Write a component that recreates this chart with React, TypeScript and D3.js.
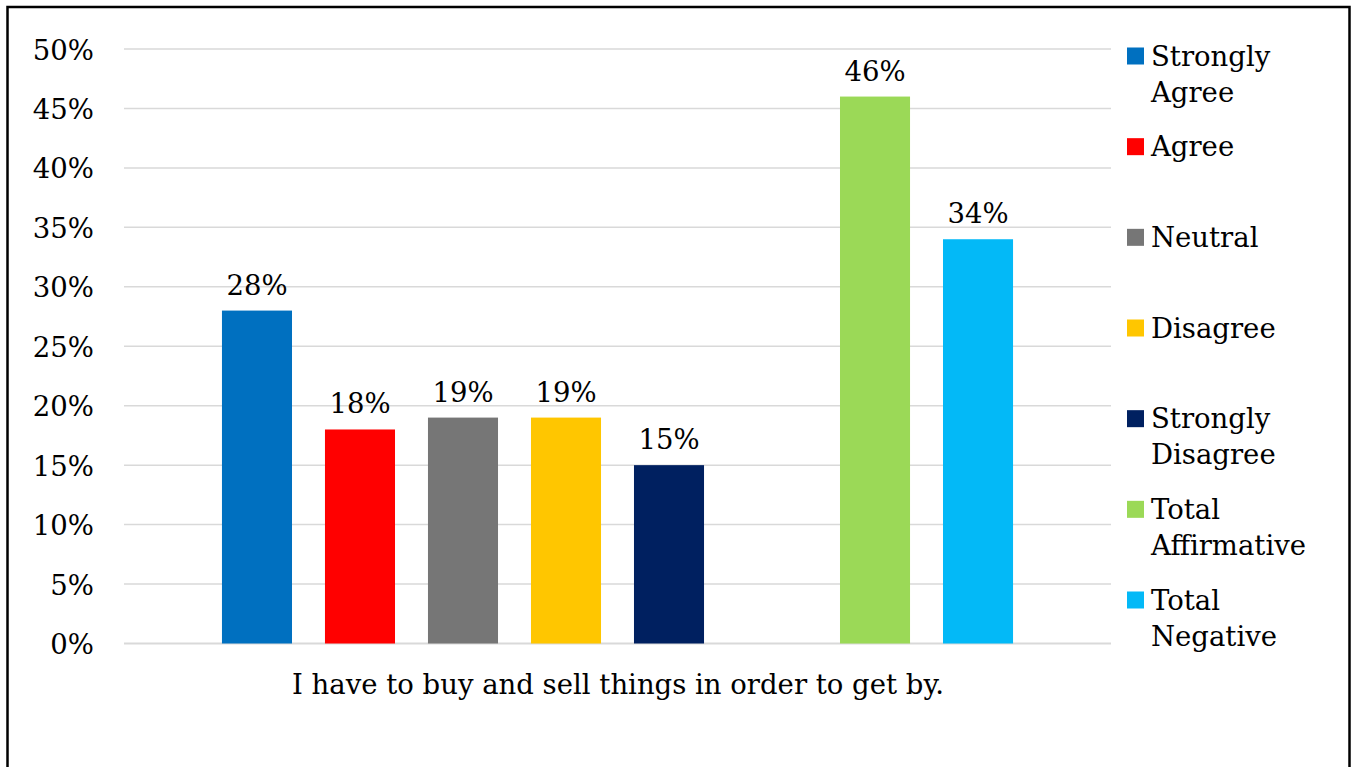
import React from "react";
import * as d3 from "d3";

const categories = ["Strongly Agree", "Agree", "Neutral", "Disagree", "Strongly Disagree", "Total Affirmative", "Total Negative"];
const values = [28, 18, 19, 19, 15, 46, 34];
const colors = ["#0070c0", "#ff0000", "#767676", "#ffc600", "#002060", "#9bd957", "#03b9f7"];
const legendLines = [["Strongly", "Agree"], ["Agree"], ["Neutral"], ["Disagree"], ["Strongly", "Disagree"], ["Total", "Affirmative"], ["Total", "Negative"]];
const yTicks = [0, 5, 10, 15, 20, 25, 30, 35, 40, 45, 50];
const slots = ["Strongly Agree", "Agree", "Neutral", "Disagree", "Strongly Disagree", "__gap", "Total Affirmative", "Total Negative"];
const title = "I have to buy and sell things in order to get by.";

const W = 1353;
const H = 767;
const FONT = "'DejaVu Serif', serif";
const FS = 27.5;

export default function App() {
  const left = 124, right = 1111, top = 49, bottom = 643.5;
  const x = d3.scaleBand<string>().domain(slots).range([left, right]).paddingInner(0.32).paddingOuter(0.951);
  const y = d3.scaleLinear().domain([0, 50]).range([bottom, top]);
  const legendY = d3.scaleLinear().domain([0, categories.length - 1]).range([56, 600]);

  return (
    <svg width={W} height={H} style={{ position: "absolute", left: 0, top: 0, background: "#fff" }} fontFamily={FONT}>
      <rect x={0} y={0} width={W} height={H} fill="#fff" />
      <rect x={7.5} y={7} width={1342} height={820} fill="none" stroke="#000" strokeWidth={2.5} />
      {yTicks.map((t) => (
        <g key={t}>
          <line x1={left} x2={right} y1={y(t)} y2={y(t)} stroke="#d9d9d9" strokeWidth={t === 0 ? 2 : 1.5} />
          <text x={94} y={y(t) + 10.5} textAnchor="end" fontSize={FS} fill="#000">{t}%</text>
        </g>
      ))}
      {categories.map((c, i) => {
        const bx = x(c)!;
        const bw = x.bandwidth();
        return (
          <g key={c}>
            <rect x={bx} y={y(values[i])} width={bw} height={y(0) - y(values[i])} fill={colors[i]} />
            <text x={bx + bw / 2} y={y(values[i]) - 16} textAnchor="middle" fontSize={FS} fill="#000">{values[i]}%</text>
          </g>
        );
      })}
      <text x={618} y={694} textAnchor="middle" fontSize={FS} fill="#000">{title}</text>
      {categories.map((c, i) => {
        const cy = legendY(i);
        return (
          <g key={"lg" + c}>
            <rect x={1127} y={cy - 8.5} width={17} height={17} fill={colors[i]} />
            {legendLines[i].map((ln, j) => (
              <text key={j} x={1151} y={cy + 9.5 + j * 36} fontSize={FS} fill="#000">{ln}</text>
            ))}
          </g>
        );
      })}
    </svg>
  );
}
